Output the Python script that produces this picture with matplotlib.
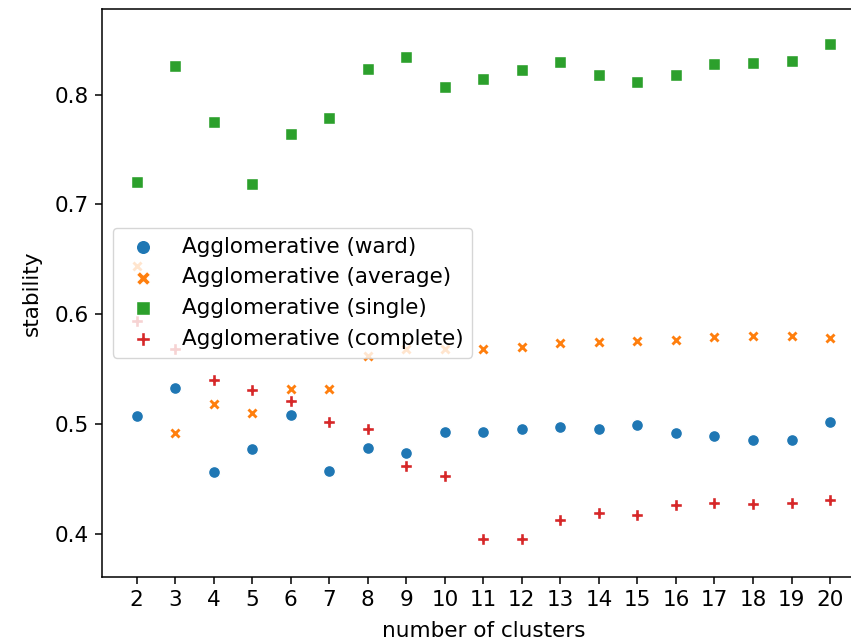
import matplotlib
matplotlib.use("Agg")
import matplotlib.pyplot as plt

plt.rcParams['font.family'] = ['DejaVu Sans']
plt.rcParams['font.size'] = 15.5

clusters = list(range(2, 21))

ward = [0.507, 0.533, 0.456, 0.477, 0.508, 0.457, 0.478, 0.474, 0.493,
        0.493, 0.496, 0.497, 0.496, 0.499, 0.492, 0.489, 0.486, 0.486, 0.502]
average = [0.644, 0.492, 0.518, 0.510, 0.532, 0.532, 0.562, 0.568, 0.568,
           0.568, 0.570, 0.574, 0.575, 0.576, 0.577, 0.579, 0.580, 0.580, 0.578]
single = [0.720, 0.826, 0.775, 0.719, 0.764, 0.779, 0.823, 0.834, 0.807,
          0.814, 0.822, 0.830, 0.818, 0.811, 0.818, 0.828, 0.829, 0.831, 0.846]
complete = [0.594, 0.568, 0.540, 0.531, 0.521, 0.502, 0.496, 0.462, 0.453,
            0.395, 0.395, 0.413, 0.419, 0.417, 0.426, 0.428, 0.427, 0.428, 0.431]

series = [
    ("Agglomerative (ward)", ward, "#1f77b4", "o"),
    ("Agglomerative (average)", average, "#ff7f0e", "X"),
    ("Agglomerative (single)", single, "#2ca02c", "s"),
    ("Agglomerative (complete)", complete, "#d62728", "P"),
]

fig = plt.figure(figsize=(8.51, 6.43), dpi=100)
ax = fig.add_axes([102 / 851, (643 - 576.5) / 643, 762.7 / 851, (576.5 - 9) / 643])

for label, vals, color, marker in series:
    s = 75 if marker != "s" else 68
    ax.scatter(clusters, vals, s=s, c=color, marker=marker, edgecolors="white",
               linewidths=1.0, label=label)

ax.set_xlim(1.1, 20.9)
ax.set_ylim(0.3613, 0.8779)
ax.set_xticks(clusters)
ax.set_yticks([0.4, 0.5, 0.6, 0.7, 0.8])
ax.tick_params(length=5, width=1.1, pad=4.5)
for sp in ax.spines.values():
    sp.set_linewidth(1.1)
ax.set_xlabel("number of clusters", labelpad=8)
ax.set_ylabel("stability", labelpad=9)

leg = ax.legend(loc="center left", markerscale=1.2, framealpha=0.8)

fig.savefig("out.png", dpi=100)
